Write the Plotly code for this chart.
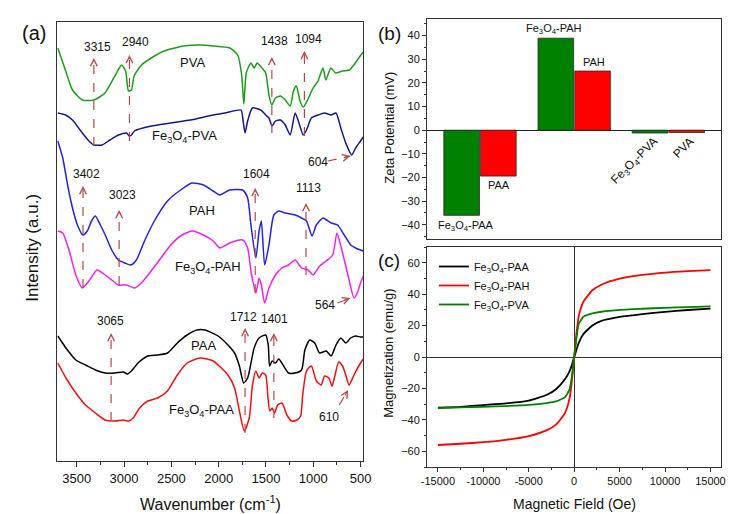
import plotly.graph_objects as go

W, H = 739, 514
FONT = "Liberation Sans, Arial, sans-serif"
FE = "Fe<sub>3</sub>O<sub>4</sub>"

# ---------------- Panel (a): FTIR spectra (arbitrary intensity units) ----------------
pva_wn = [3700,3617,3545,3441,3319,3202,3098,3026,2984,2953,2922,2894,2816,2712,2577,2370,2193,2058,1882,1799,
          1757,1734,1708,1659,1625,1594,1542,1503,1469,1438,1400,1348,1296,1244,1210,1179,1140,1106,1075,1002,
          950,898,867,815,763,691,618,556,504,472]
pva_int = [413,390,371,361,361,368,385,396,390,370,371,385,396,403,410,415,416,415,413,406,
           386,357,388,398,393,398,393,388,366,356,363,365,361,355,370,375,360,354,358,373,
           380,393,381,393,388,390,391,398,405,409]

fepva_wn = [3700,3617,3545,3441,3371,3319,3233,3150,3060,2974,2946,2922,2891,2712,2507,2300,2058,1935,1763,1746,
            1721,1694,1643,1555,1503,1469,1435,1400,1348,1296,1244,1192,1158,1106,1072,1020,950,881,812,760,
            709,657,594,553,501,472]
fepva_int = [348,346,341,328,320,316,316,321,326,328,325,326,330,335,338,341,346,348,351,343,
             328,340,353,351,346,343,335,340,341,336,326,348,340,326,331,343,346,348,346,348,
             333,318,306,313,320,324]

pah_wn = [3700,3648,3597,3545,3493,3436,3389,3344,3303,3251,3199,3130,3060,2992,2929,2870,2784,2680,2541,2403,
          2282,2161,2058,1988,1885,1746,1694,1659,1607,1573,1549,1514,1469,1417,1365,1296,1192,1124,1072,1013,
          968,898,812,743,673,605,553,501,472]
pah_int = [320,303,276,253,236,226,230,240,245,236,226,211,201,198,196,201,220,240,260,271,
           278,276,270,266,271,271,263,236,203,230,240,196,216,246,250,248,246,243,240,225,
           236,243,238,236,226,216,213,211,210]

fepah_wn = [3700,3648,3579,3510,3441,3371,3285,3199,3130,3060,2974,2888,2818,2714,2610,2507,2403,2282,2161,2058,
            1988,1885,1746,1694,1659,1607,1573,1549,1514,1469,1400,1331,1261,1192,1124,1054,1002,933,864,795,
            750,709,639,569,535,501,472]
fepah_int = [230,228,210,186,173,180,191,186,181,176,176,173,178,190,203,216,225,230,226,220,
             213,218,221,213,190,168,183,176,158,173,186,193,196,201,193,191,186,195,200,206,
             228,215,188,163,168,178,185]

paa_wn = [3700,3614,3510,3407,3303,3199,3095,3008,2964,2922,2852,2749,2645,2541,2437,2334,2230,2144,2092,2006,
          1902,1832,1781,1736,1694,1625,1573,1503,1476,1462,1435,1400,1365,1313,1261,1192,1124,1089,1037,985,
          933,864,812,760,709,657,605,553,501,472]
paa_int = [125,113,101,96,91,88,88,89,87,90,98,105,106,108,118,126,131,131,129,125,
           116,108,95,78,83,113,123,126,116,95,100,98,102,95,88,88,91,111,121,118,
           108,110,105,116,123,118,123,125,124,124]

fepaa_wn = [3700,3614,3510,3407,3303,3199,3095,3008,2950,2904,2836,2749,2645,2541,2437,2334,2196,2058,2006,1902,
            1832,1781,1729,1677,1643,1607,1573,1539,1503,1479,1459,1435,1410,1376,1331,1279,1227,1175,1134,1113,
            1072,1020,968,916,881,836,802,777,732,691,657,622,570,501,472]
fepaa_int = [98,83,68,56,48,41,40,41,40,43,53,60,63,70,86,98,103,100,96,86,
             73,50,30,43,76,90,83,88,86,63,50,53,48,56,58,46,40,41,45,65,
             90,95,80,76,85,83,75,83,99,95,86,76,86,98,102]

# ---------------- Panel (b): zeta potential ----------------
zeta_groups = [0, 1, 2]
zeta_fe = [-36.0, 38.9, -1.2]      # Fe3O4-PAA, Fe3O4-PAH, Fe3O4-PVA
zeta_poly = [-19.4, 25.0, -1.0]    # PAA, PAH, PVA

# ---------------- Panel (c): magnetization ----------------
field = [-15000,-12500,-10000,-7500,-5000,-3000,-2000,-1000,-500,-250,0,250,500,1000,2000,3000,5000,7500,10000,12500,15000]
m_paa = [-32.3,-31.7,-30.6,-29.5,-27.7,-24.0,-20.5,-14.0,-9.0,-5.0,0,4.5,9.0,14.5,20.0,23.0,25.5,27.3,28.7,29.9,30.8]
m_pah = [-56.0,-55.2,-54.2,-52.7,-50.3,-46.5,-43.0,-35.5,-26.0,-15.0,0,15.0,26.0,35.0,42.5,46.0,49.8,52.2,53.7,54.6,55.3]
m_pva = [-32.5,-32.1,-31.7,-31.2,-30.5,-29.3,-28.3,-25.5,-20.5,-12.0,0,12.0,21.0,25.5,27.7,28.8,30.0,30.7,31.3,31.8,32.2]
field_ticks = [-15000, -10000, -5000, 0, 5000, 10000, 15000]

DASH = "#b5474b"

def dom(a, b, total):
    return [a / total, b / total]

def ydom(top, bottom):
    return [1 - bottom / H, 1 - top / H]

fig = go.Figure()

spectra = [
    (pva_wn, pva_int, "#1f9a1f"),
    (fepva_wn, fepva_int, "#17178a"),
    (pah_wn, pah_int, "#2323e0"),
    (fepah_wn, fepah_int, "#ee22ee"),
    (paa_wn, paa_int, "#000000"),
    (fepaa_wn, fepaa_int, "#ee1111"),
]
for wn, it, col in spectra:
    fig.add_trace(go.Scatter(x=wn, y=it, mode="lines", xaxis="x", yaxis="y",
                             line=dict(color=col, width=1.5, shape="spline", smoothing=0.6),
                             showlegend=False, hoverinfo="skip"))

fig.add_trace(go.Bar(x=zeta_groups, y=zeta_fe, xaxis="x2", yaxis="y2", showlegend=False,
                     marker=dict(color="#008000", line=dict(color="#2a2a2a", width=0.8))))
fig.add_trace(go.Bar(x=zeta_groups, y=zeta_poly, xaxis="x2", yaxis="y2", showlegend=False,
                     marker=dict(color="#ff0000", line=dict(color="#2a2a2a", width=0.8))))

for m, col, name in [(m_paa, "#000000", FE + "-PAA"), (m_pah, "#ff0000", FE + "-PAH"), (m_pva, "#008000", FE + "-PVA")]:
    fig.add_trace(go.Scatter(x=field, y=m, mode="lines", xaxis="x3", yaxis="y3", name=name,
                             line=dict(color=col, width=1.8, shape="spline", smoothing=0.5)))

axline = dict(showline=True, mirror=True, linecolor="#333333", linewidth=1, showgrid=False)

fig.update_layout(
    width=W, height=H, margin=dict(l=0, r=0, t=0, b=0),
    paper_bgcolor="white", plot_bgcolor="white",
    font=dict(family=FONT, color="#111111"),
    barmode="group", bargap=0.22, bargroupgap=0.03,
    xaxis=dict(domain=dom(44, 356, W), range=[3707, 472], anchor="y",
               tick0=500, dtick=500, ticks="outside", ticklen=5, tickcolor="#333",
               tickfont=dict(size=13), zeroline=False,
               minor=dict(ticks="outside", ticklen=3, tick0=500, dtick=250, tickcolor="#333"), **axline),
    yaxis=dict(domain=ydom(14, 453), range=[0, 439], anchor="x",
               showticklabels=False, ticks="", zeroline=False, **axline),
    xaxis2=dict(domain=dom(421, 721, W), range=[-0.5625, 2.5625], anchor="y2",
                showticklabels=False, ticks="", zeroline=False, **axline),
    yaxis2=dict(domain=ydom(11, 231), range=[-46, 47], anchor="x2",
                dtick=10, ticks="outside", ticklen=4, tickcolor="#333", tickfont=dict(size=11),
                minor=dict(ticks="outside", ticklen=2, dtick=5, tickcolor="#333"),
                zeroline=True, zerolinecolor="#222222", zerolinewidth=1, **axline),
    xaxis3=dict(domain=dom(421, 721, W), range=[-16200, 16200], anchor="y3",
                tickmode="array", tickvals=field_ticks, ticktext=[str(v) for v in field_ticks],
                ticks="outside", ticklen=4, tickcolor="#333", tickfont=dict(size=11),
                minor=dict(ticks="outside", ticklen=2, dtick=2500, tick0=0, tickcolor="#333"),
                zeroline=True, zerolinecolor="#333333", zerolinewidth=1, **axline),
    yaxis3=dict(domain=ydom(239, 459), range=[-70, 70], anchor="x3",
                dtick=20, ticks="outside", ticklen=4, tickcolor="#333", tickfont=dict(size=11),
                minor=dict(ticks="outside", ticklen=2, dtick=10, tickcolor="#333"),
                zeroline=True, zerolinecolor="#333333", zerolinewidth=1, **axline),
    legend=dict(x=428 / W, y=1 - 244 / H, xanchor="left", yanchor="top",
                bgcolor="rgba(0,0,0,0)", font=dict(size=11), tracegroupgap=0),
)

ann = []
shapes = []

def txt(x, y, s, size=12, xref="x", yref="y", angle=0):
    ann.append(dict(x=x, y=y, xref=xref, yref=yref, text=s, showarrow=False,
                    font=dict(size=size, family=FONT, color="#111"), textangle=angle,
                    xanchor="center", yanchor="middle"))

def vmark(wn, y0, y1, label, lx, ly):
    shapes.append(dict(type="line", xref="x", yref="y", x0=wn, x1=wn, y0=y0, y1=y1 - 4,
                       line=dict(color=DASH, width=1.2, dash="dash")))
    ann.append(dict(x=wn, y=y1, xref="x", yref="y", text="", showarrow=True, arrowhead=5,
                    arrowsize=1.2, arrowwidth=1.1, arrowcolor=DASH, ax=0, ay=5, standoff=0))
    txt(lx, ly, label)

def dmark(x0, y0, x1, y1, ax, ay):
    shapes.append(dict(type="line", xref="x", yref="y", x0=x0, x1=x1, y0=y0, y1=y1,
                       line=dict(color=DASH, width=1.2, dash="dash")))
    ann.append(dict(x=x1, y=y1, xref="x", yref="y", text="", showarrow=True, arrowhead=5,
                    arrowsize=1.2, arrowwidth=1.1, arrowcolor=DASH, ax=ax, ay=ay, standoff=0))

vmark(3319, 315, 403, "3315", 3285, 414)
vmark(2943, 320, 406, "2940", 2880, 419)
vmark(1438, 328, 404, "1438", 1407, 420)
vmark(1094, 325, 410, "1094", 1054, 422)
vmark(3434, 173, 275, "3402", 3399, 287)
vmark(3052, 176, 251, "3023", 3015, 266)
vmark(1614, 168, 273, "1604", 1604, 287)
vmark(1077, 186, 258, "1113", 1054, 273)
vmark(3137, 40, 128, "3065", 3140, 140)
vmark(1721, 28, 133, "1712", 1739, 144)
vmark(1417, 43, 128, "1401", 1407, 142)

txt(950, 299, "604")
dmark(847, 300, 608, 305, -8, 2)
txt(878, 156, "564")
dmark(743, 158, 608, 163, -8, 3)
txt(836, 44, "610")
dmark(725, 56, 632, 71, -4, 7)

txt(2279, 399, "PVA", 13)
txt(2362, 325, FE + "-PVA", 13)
txt(2175, 251, "PAH", 13)
txt(2113, 194, FE + "-PAH", 13)
txt(2165, 116, "PAA", 13)
txt(2185, 51, FE + "-PAA", 13)

# panel (b) labels
txt(-0.156, -40.3, FE + "-PAA", 11, "x2", "y2")
txt(0.198, -23.3, "PAA", 11, "x2", "y2")
txt(0.78, 42.8, FE + "-PAH", 11, "x2", "y2")
txt(1.21, 28.8, "PAH", 11, "x2", "y2")
txt(1.646, -13.1, FE + "-PVA", 12, "x2", "y2", -45)
txt(2.156, -7.6, "PVA", 12, "x2", "y2", -45)

# panel letters and axis titles (paper coords)
def ptxt(px, py, s, size, angle=0):
    txt(px / W, 1 - py / H, s, size, "paper", "paper", angle)

ptxt(20, 25, "(a)", 20)
ptxt(383, 25, "(b)", 19)
ptxt(382, 252, "(c)", 19)
ptxt(18, 240, "Intensity (a.u.)", 17, -90)
ptxt(200, 495, "Wavenumber (cm<sup>-1</sup>)", 16)
ptxt(382, 120, "Zeta Potential (mV)", 13, -90)
ptxt(381, 345, "Magnetization (emu/g)", 13, -90)
ptxt(571, 496, "Magnetic Field (Oe)", 14)

fig.update_layout(annotations=ann, shapes=shapes)
fig.write_html("out.html")
